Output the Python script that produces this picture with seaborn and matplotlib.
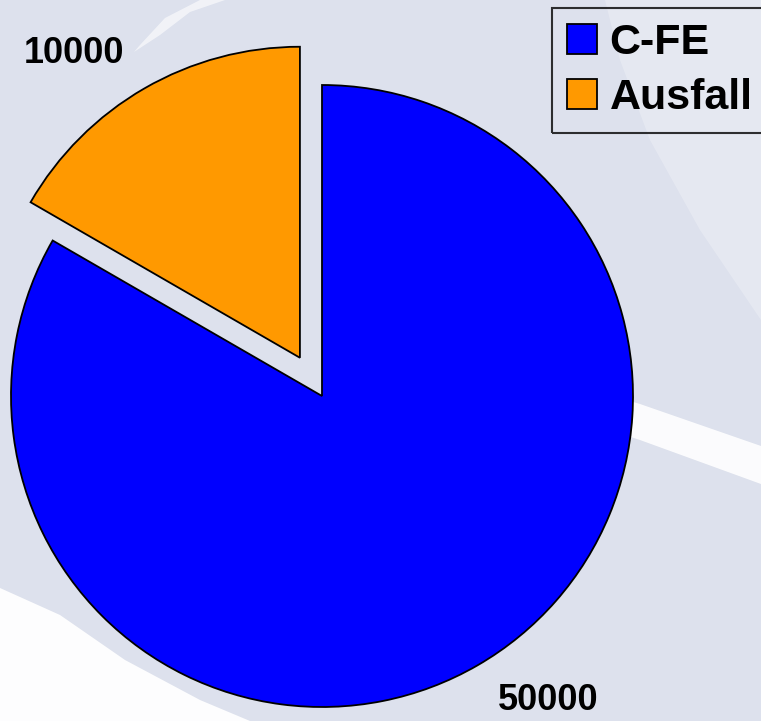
import matplotlib
matplotlib.use("Agg")
import matplotlib.pyplot as plt
import seaborn as sns
from matplotlib.patches import Polygon

# ---- data ----
categories = ["C-FE", "Ausfall"]
values = [50000, 10000]
value_labels = ["50000", "10000"]
colors = ["#0000FF", "#FF9900"]
explode = [0.0, 0.142]

sns.set_theme(style="white")
plt.rcParams["font.family"] = ["Liberation Sans", "DejaVu Sans"]
plt.rcParams["text.color"] = "black"

W, H = 761, 721
fig = plt.figure(figsize=(W / 100, H / 100), dpi=100)
bg = "#DDE1ED"
fig.patch.set_facecolor(bg)

def fp(x, y):
    return (x / W, 1 - y / H)

def deco(pts, alpha):
    p = Polygon([fp(*q) for q in pts], closed=True, transform=fig.transFigure,
                facecolor="white", edgecolor="none", alpha=alpha, zorder=-5)
    fig.patches.append(p)

# decorative slide background swooshes
deco([(0, 588), (60, 615), (125, 660), (200, 700), (250, 721), (0, 721)], 0.95)
deco([(560, 380), (640, 404), (761, 446), (761, 484), (640, 440), (560, 414)], 0.9)
deco([(605, 0), (761, 0), (761, 320), (700, 230), (650, 140), (620, 60)], 0.25)
deco([(200, 0), (165, 18), (140, 45), (134, 52), (160, 35), (190, 12), (225, 0)], 0.6)

# axes so that the pie (radius 1) lands at the right place
R = 311.0
cx, cy = 322.0, 396.0
ax = fig.add_axes([0, 0, 1, 1])
ax.set_facecolor("none")
ax.set_zorder(1)

wedges, texts = ax.pie(
    values,
    labels=value_labels,
    colors=colors,
    explode=explode,
    startangle=90,
    counterclock=False,
    labeldistance=1.13,
    wedgeprops=dict(edgecolor="black", linewidth=1.3),
    textprops=dict(fontsize=26, fontweight="bold", color="black"),
)
ax.set_xlim(-cx / R, (W - cx) / R)
ax.set_ylim(-(H - cy) / R, cy / R)
ax.set_aspect("auto")
ax.axis("off")

leg = fig.legend(
    wedges, categories,
    loc="upper left",
    bbox_to_anchor=(552 / W, 1 - 8 / H),
    bbox_transform=fig.transFigure,
    borderaxespad=0,
    frameon=True,
    fancybox=False,
    handlelength=0.69,
    handleheight=0.69,
    handletextpad=0.3,
    labelspacing=0.35,
    borderpad=0.35,
    prop=dict(size=31, weight="bold"),
    labelcolor="black",
)
leg.set_zorder(2)
frame = leg.get_frame()
frame.set_edgecolor("black")
frame.set_linewidth(1.5)
frame.set_facecolor("none")

fig.savefig("out.png", dpi=100, facecolor=fig.get_facecolor())
